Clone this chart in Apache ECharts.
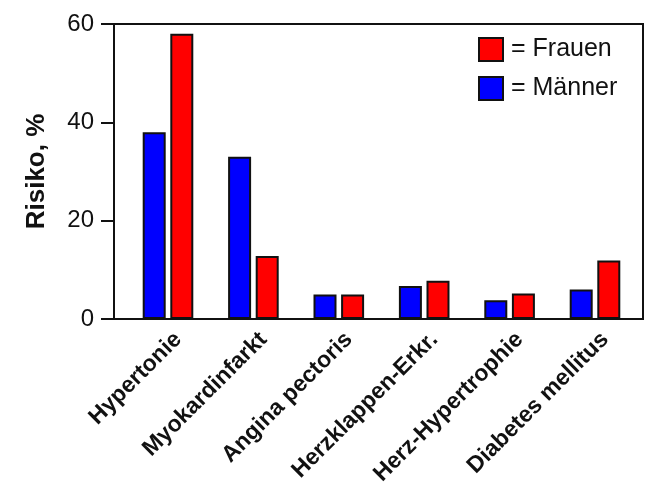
<!DOCTYPE html>
<html>
<head>
<meta charset="utf-8">
<script src="https://cdn.jsdelivr.net/npm/echarts@6/dist/echarts.min.js"></script>
<style>html,body{margin:0;padding:0;background:#fff;}#c{width:649px;height:493px;}</style>
</head>
<body>
<div id="c"></div>
<script>
var categories = ['Hypertonie', 'Myokardinfarkt', 'Angina pectoris', 'Herzklappen-Erkr.', 'Herz-Hypertrophie', 'Diabetes mellitus'];
var maenner = [38, 33, 5, 6.7, 3.8, 6];
var frauen = [58, 12.8, 5, 7.8, 5.2, 11.9];
var yTicks = [0, 20, 40, 60];

var FONT = 'Arial, "Liberation Sans", sans-serif';
var chart = echarts.init(document.getElementById('c'), null, {renderer: 'canvas'});
chart.setOption({
  backgroundColor: '#fff',
  animation: false,
  textStyle: {fontFamily: FONT},
  grid: [
    {left: 114, right: 6, top: 24, bottom: 174, show: true, borderColor: '#111', borderWidth: 2, backgroundColor: 'transparent'},
    {left: 125.3, right: 11.3, top: 24, bottom: 174},
    {left: 135.3, right: 1.3, top: 24, bottom: 174}
  ],
  xAxis: [
    {type: 'category', gridIndex: 0, data: categories, show: false},
    {type: 'category', gridIndex: 1, data: categories, show: false},
    {type: 'category', gridIndex: 2, data: categories,
     axisLine: {show: false}, axisTick: {show: false},
     axisLabel: {rotate: 45, fontSize: 23, fontWeight: 'bold', color: '#111', fontFamily: FONT, margin: 17, interval: 0}}
  ],
  yAxis: [
    {type: 'value', gridIndex: 0, min: yTicks[0], max: yTicks[yTicks.length - 1], interval: 20,
     name: 'Risiko, %', nameLocation: 'middle', nameGap: 64,
     nameTextStyle: {fontSize: 26, fontWeight: 'bold', color: '#111', fontFamily: FONT},
     axisLine: {show: true, lineStyle: {color: '#111', width: 2}},
     axisTick: {show: true, length: 13, lineStyle: {color: '#111', width: 2}},
     axisLabel: {fontSize: 24, color: '#111', margin: 20, fontFamily: FONT},
     splitLine: {show: false}},
    {type: 'value', gridIndex: 1, min: yTicks[0], max: yTicks[yTicks.length - 1], show: false, splitLine: {show: false}},
    {type: 'value', gridIndex: 2, min: yTicks[0], max: yTicks[yTicks.length - 1], show: false, splitLine: {show: false}}
  ],
  legend: {
    data: ['Frauen', 'Männer'],
    orient: 'vertical',
    left: 478, top: 37,
    padding: 0,
    itemWidth: 24, itemHeight: 23, itemGap: 14,
    icon: 'rect',
    formatter: '= {name}',
    textStyle: {fontSize: 25, color: '#111', fontFamily: FONT, padding: [0, 0, 0, 3]}
  },
  series: [
    {name: 'Männer', type: 'bar', xAxisIndex: 1, yAxisIndex: 1, data: maenner,
     barWidth: 23, barGap: '20%',
     itemStyle: {color: '#0000ff', borderColor: '#111', borderWidth: 2}},
    {name: 'Frauen', type: 'bar', xAxisIndex: 1, yAxisIndex: 1, data: frauen,
     barWidth: 23, barGap: '20%',
     itemStyle: {color: '#ff0000', borderColor: '#111', borderWidth: 2}}
  ]
});
</script>
</body>
</html>
